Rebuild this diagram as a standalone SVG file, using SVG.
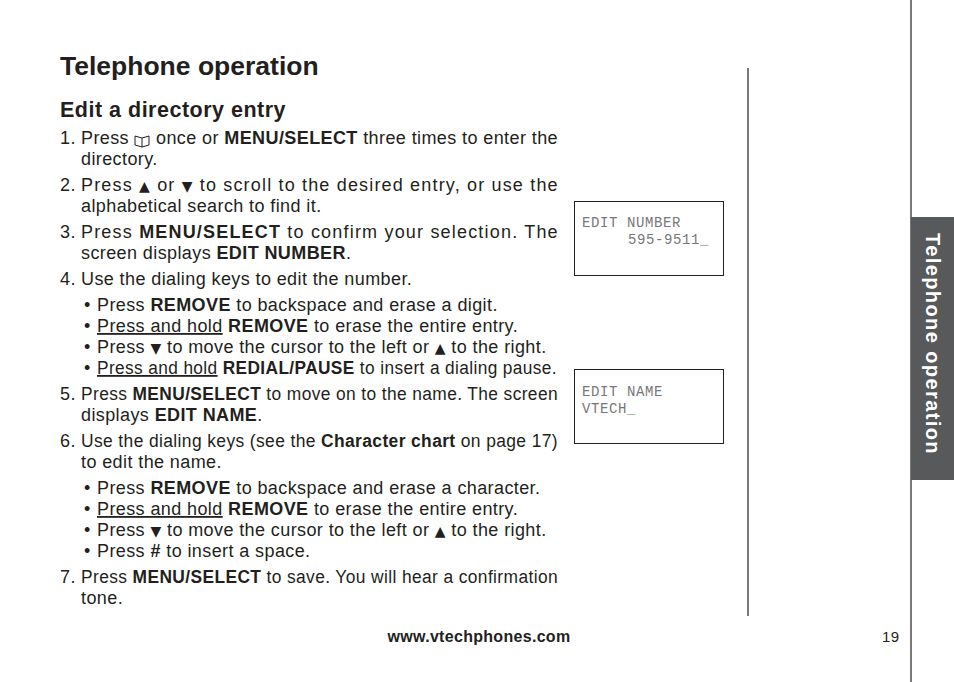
<svg xmlns="http://www.w3.org/2000/svg" width="954" height="682" viewBox="0 0 954 682">
<style>
.t{font-family:"Liberation Sans",Arial,sans-serif;font-size:18px;letter-spacing:0.4px;fill:#231f20}
.b{font-weight:bold}
.u{text-decoration:underline}
.s{font-family:"DejaVu Sans",sans-serif;font-size:14px}
.lcd{font-family:"Liberation Mono",monospace;font-size:14px;letter-spacing:0.6px;fill:#777}
</style>
<rect width="954" height="682" fill="#fff"/>
<g id="page">
<text x="60" y="75" class="t b" style="font-size:26.5px;letter-spacing:0">Telephone operation</text>
<text x="60" y="117" class="t b" style="font-size:21.5px;letter-spacing:0.5px">Edit a directory entry</text>
<line x1="748" y1="68" x2="748" y2="616" stroke="#231f20" stroke-width="1.2"/>
<line x1="911" y1="0" x2="911" y2="682" stroke="#231f20" stroke-width="1.2"/>
<rect x="911" y="217" width="43" height="263" fill="#58595b"/>
<text transform="translate(926,344) rotate(90)" text-anchor="middle" class="t b" style="font-size:20px;letter-spacing:1.4px;fill:#fff">Telephone operation</text>
<text x="479" y="642" text-anchor="middle" class="t b" style="font-size:16px;letter-spacing:0.3px">www.vtechphones.com</text>
<text x="882" y="642" class="t" style="font-size:15px">19</text>
</g>
<g id="lcd1">
<rect x="574.5" y="201.5" width="149" height="74" fill="none" stroke="#231f20"/>
<text x="582" y="227" class="lcd">EDIT NUMBER</text>
<text x="628" y="244" class="lcd">595-9511_</text>
</g>
<g id="lcd2">
<rect x="574.5" y="369.5" width="149" height="74" fill="none" stroke="#231f20"/>
<text x="582" y="396" class="lcd">EDIT NAME</text>
<text x="582" y="413" class="lcd">VTECH_</text>
</g>
<g id="steps">
<text x="60" y="144" class="t">1.</text>
<text x="81" y="144" class="t">Press</text>
<g fill="none" stroke="#231f20" stroke-width="1"><path d="M135 136 l7 2 l7 -2 v9 l-7 2 l-7 -2 z M142 138 v9"/></g>
<text x="156" y="144" class="t" textLength="402" lengthAdjust="spacingAndGlyphs">once or <tspan class="b">MENU/SELECT</tspan> three times to enter the</text>
<text x="81" y="165" class="t">directory.</text>
<text x="60" y="191" class="t">2.</text>
<text x="81" y="191" class="t" textLength="477" lengthAdjust="spacing">Press <tspan class="s">▲</tspan> or <tspan class="s">▼</tspan> to scroll to the desired entry, or use the</text>
<text x="81" y="212" class="t">alphabetical search to find it.</text>
<text x="60" y="238" class="t">3.</text>
<text x="81" y="238" class="t" textLength="477" lengthAdjust="spacing">Press <tspan class="b">MENU/SELECT</tspan> to confirm your selection. The</text>
<text x="81" y="259" class="t">screen displays <tspan class="b">EDIT NUMBER</tspan>.</text>
<text x="60" y="285" class="t">4.</text>
<text x="81" y="285" class="t">Use the dialing keys to edit the number.</text>
<text x="84" y="311" class="t">•</text><text x="97" y="311" class="t">Press <tspan class="b">REMOVE</tspan> to backspace and erase a digit.</text>
<text x="84" y="332" class="t">•</text><text x="97" y="332" class="t"><tspan class="u">Press and hold</tspan> <tspan class="b">REMOVE</tspan> to erase the entire entry.</text>
<text x="84" y="353" class="t">•</text><text x="97" y="353" class="t">Press <tspan class="s">▼</tspan> to move the cursor to the left or <tspan class="s">▲</tspan> to the right.</text>
<text x="84" y="374" class="t">•</text><text x="97" y="374" class="t" textLength="460" lengthAdjust="spacingAndGlyphs"><tspan class="u">Press and hold</tspan> <tspan class="b">REDIAL/PAUSE</tspan> to insert a dialing pause.</text>
<text x="60" y="400" class="t">5.</text>
<text x="81" y="400" class="t" textLength="477" lengthAdjust="spacingAndGlyphs">Press <tspan class="b">MENU/SELECT</tspan> to move on to the name. The screen</text>
<text x="81" y="421" class="t">displays <tspan class="b">EDIT NAME</tspan>.</text>
<text x="60" y="447" class="t">6.</text>
<text x="81" y="447" class="t" textLength="477" lengthAdjust="spacingAndGlyphs">Use the dialing keys (see the <tspan class="b">Character chart</tspan> on page 17)</text>
<text x="81" y="468" class="t">to edit the name.</text>
<text x="84" y="494" class="t">•</text><text x="97" y="494" class="t">Press <tspan class="b">REMOVE</tspan> to backspace and erase a character.</text>
<text x="84" y="515" class="t">•</text><text x="97" y="515" class="t"><tspan class="u">Press and hold</tspan> <tspan class="b">REMOVE</tspan> to erase the entire entry.</text>
<text x="84" y="536" class="t">•</text><text x="97" y="536" class="t">Press <tspan class="s">▼</tspan> to move the cursor to the left or <tspan class="s">▲</tspan> to the right.</text>
<text x="84" y="557" class="t">•</text><text x="97" y="557" class="t">Press <tspan class="b">#</tspan> to insert a space.</text>
<text x="60" y="583" class="t">7.</text>
<text x="81" y="583" class="t" textLength="477" lengthAdjust="spacingAndGlyphs">Press <tspan class="b">MENU/SELECT</tspan> to save. You will hear a confirmation</text>
<text x="81" y="604" class="t">tone.</text>
</g>
</svg>
